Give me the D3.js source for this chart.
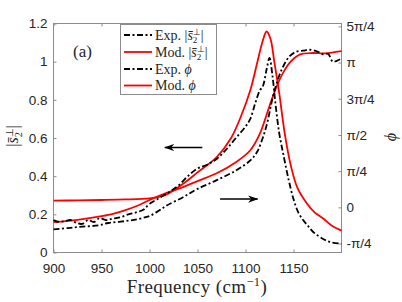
<!DOCTYPE html>
<html lang="en">
<head>
<meta charset="utf-8">
<script src="https://d3js.org/d3.v7.min.js"></script>
<style>
  body { margin: 0; background: #fff; }
  svg text { fill: #262626; }
</style>
</head>
<body>
<svg id="chart" width="402" height="302"></svg>
<script>
// x ticks
const xTicks = [900, 950, 1000, 1050, 1100, 1150];
const yTicksL = [0, 0.2, 0.4, 0.6, 0.8, 1, 1.2];
const yTicksR = [-Math.PI/4, 0, Math.PI/4, Math.PI/2, 3*Math.PI/4, Math.PI, 5*Math.PI/4];
const yTickLabelsR = ["-π/4", "0", "π/4", "π/2", "3π/4", "π", "5π/4"];

// Exp |s2| (black dash-dot, left axis)
const expMagF = [900,906,912,918,924,930,936,942,948,955,962,970,978,986,994,1000,1010,1020,1030,1040,1050,1060,1070,1080,1090,1100,1105,1110,1115,1118,1122,1125,1128,1131,1135,1140,1145,1150,1155,1160,1165,1170,1178,1188,1200];
const expMag  = [0.17,0.16,0.165,0.17,0.155,0.15,0.17,0.16,0.18,0.17,0.178,0.185,0.2,0.21,0.225,0.255,0.285,0.315,0.35,0.40,0.44,0.46,0.49,0.54,0.60,0.66,0.70,0.78,0.85,0.87,0.96,1.02,0.93,0.79,0.63,0.50,0.38,0.28,0.21,0.17,0.14,0.11,0.08,0.055,0.046];

// Mod |s2| (red, left axis)
const modMagF = [900,925,950,975,1000,1010,1020,1035,1050,1070,1085,1095,1105,1112,1118,1122,1126,1130,1135,1141,1147,1154,1164,1172,1181,1190,1200];
const modMag  = [0.272,0.273,0.275,0.278,0.284,0.292,0.31,0.36,0.42,0.50,0.60,0.71,0.85,0.99,1.11,1.158,1.12,1.0,0.84,0.62,0.46,0.34,0.257,0.21,0.178,0.14,0.115];

// Exp phi (black dash-dot, right axis, rad)
const expPhiF = [900,915,930,947,957,970,984,995,1001,1010,1018,1035,1050,1070,1090,1105,1112,1117,1122,1129,1135,1140,1146,1153,1160,1167,1175,1181,1186,1191,1195,1200];
const expPhi  = [-0.48,-0.45,-0.42,-0.39,-0.34,-0.31,-0.27,-0.22,-0.18,-0.07,0.04,0.22,0.40,0.59,0.80,1.02,1.2,1.45,1.78,2.44,2.85,3.09,3.28,3.38,3.40,3.42,3.38,3.32,3.33,3.16,3.18,3.23];

// Mod phi (red, right axis, rad)
const modPhiF = [900,925,950,962,975,988,1000,1010,1020,1035,1050,1070,1090,1105,1115,1125,1133,1140,1147,1157,1170,1181,1190,1200];
const modPhi  = [-0.32,-0.27,-0.19,-0.14,-0.06,0.04,0.16,0.25,0.33,0.44,0.57,0.74,0.98,1.24,1.60,2.2,2.65,2.95,3.16,3.32,3.35,3.34,3.36,3.39];

const svg = d3.select("#chart");
const L = 53, R = 341, T = 23, B = 252;

const x = d3.scaleLinear().domain([900, 1200]).range([L, R]);
const yL = d3.scaleLinear().domain([0, 1.2]).range([B, T]);
const yR = d3.scaleLinear().domain([-0.98, 3.99]).range([B, T]);

const g = svg.append("g").attr("transform", "translate(0.5,0.5)");

// box
g.append("rect").attr("x", L).attr("y", T).attr("width", R - L).attr("height", B - T)
  .attr("fill", "none").attr("stroke", "#8c8c8c").attr("stroke-width", 1);

function styleAxis(sel) {
  sel.select(".domain").remove();
  sel.selectAll(".tick line").attr("stroke", "#8c8c8c");
  sel.selectAll("text").attr("font-family", "'Liberation Sans', Arial, sans-serif")
     .attr("font-size", 13.5).attr("fill", "#262626");
}

g.append("g").attr("transform", `translate(0,${B})`)
  .call(d3.axisBottom(x).tickValues(xTicks).tickSize(-3).tickPadding(11).tickFormat(d3.format("d")))
  .call(styleAxis);
g.append("g").attr("transform", `translate(0,${T})`)
  .call(d3.axisTop(x).tickValues(xTicks).tickSize(-3).tickFormat(""))
  .call(styleAxis);
g.append("g").attr("transform", `translate(${L},0)`)
  .call(d3.axisLeft(yL).tickValues(yTicksL).tickSize(-3).tickPadding(6).tickFormat(d => d3.format("")(d)))
  .call(styleAxis);
g.append("g").attr("transform", `translate(${R},0)`)
  .call(d3.axisRight(yR).tickValues(yTicksR).tickSize(-3).tickPadding(5).tickFormat((d, i) => yTickLabelsR[i]))
  .call(styleAxis);

// curves
const lineL = d3.line().x(d => x(d[0])).y(d => yL(d[1])).curve(d3.curveCatmullRom.alpha(0.5));
const lineR = d3.line().x(d => x(d[0])).y(d => yR(d[1])).curve(d3.curveCatmullRom.alpha(0.5));
const dash = "6,2.5,2,2.5";

g.append("path").datum(d3.zip(modMagF, modMag)).attr("d", lineL)
  .attr("fill", "none").attr("stroke", "#ff0000").attr("stroke-width", 1.8);
g.append("path").datum(d3.zip(modPhiF, modPhi)).attr("d", lineR)
  .attr("fill", "none").attr("stroke", "#ff0000").attr("stroke-width", 1.8);
g.append("path").datum(d3.zip(expMagF, expMag)).attr("d", lineL)
  .attr("fill", "none").attr("stroke", "#000").attr("stroke-width", 1.8).attr("stroke-dasharray", dash);
g.append("path").datum(d3.zip(expPhiF, expPhi)).attr("d", lineR)
  .attr("fill", "none").attr("stroke", "#000").attr("stroke-width", 1.8).attr("stroke-dasharray", dash);

// arrows
const defs = svg.append("defs");
defs.append("marker").attr("id", "head").attr("viewBox", "0 0 10 10").attr("refX", 9).attr("refY", 5)
  .attr("markerWidth", 7).attr("markerHeight", 7).attr("orient", "auto-start-reverse")
  .append("path").attr("d", "M0,1.5 L10,5 L0,8.5 L3,5 Z").attr("fill", "#000");
g.append("line").attr("x1", x(1055)).attr("x2", x(1016)).attr("y1", yL(0.55)).attr("y2", yL(0.55))
  .attr("stroke", "#000").attr("stroke-width", 1.5).attr("marker-end", "url(#head)");
g.append("line").attr("x1", x(1073.5)).attr("x2", x(1112.5)).attr("y1", yL(0.28)).attr("y2", yL(0.28))
  .attr("stroke", "#000").attr("stroke-width", 1.5).attr("marker-end", "url(#head)");

// (a)
svg.append("text").attr("x", 73).attr("y", 57).attr("font-family", "'Liberation Serif', serif")
  .attr("font-size", 17).text("(a)");

// |s2| label helper
function magLabel(t, size) {
  t.append("tspan").text("|");
  t.append("tspan").attr("font-style", "italic").text("s\u0304");
  t.append("tspan").attr("font-size", size * 0.65).attr("dy", size * 0.28).text("2");
  t.append("tspan").attr("font-size", size * 0.65).attr("dx", -size * 0.33).attr("dy", -size * 0.62).text("⊥");
  t.append("tspan").attr("dy", size * 0.34).text("|");
}

// legend
const lg = svg.append("g");
lg.append("rect").attr("x", 120.5).attr("y", 24.5).attr("width", 96).attr("height", 70)
  .attr("fill", "#fff").attr("stroke", "#8c8c8c");
const items = [
  {label: "Exp. ", mag: true, color: "#000", dash: dash},
  {label: "Mod. ", mag: true, color: "#ff0000", dash: null},
  {label: "Exp. ", mag: false, color: "#000", dash: dash},
  {label: "Mod. ", mag: false, color: "#ff0000", dash: null}
];
const itemY = [35, 52, 69, 85.5];
items.forEach((it, i) => {
  lg.append("line").attr("x1", 124).attr("x2", 152).attr("y1", itemY[i]).attr("y2", itemY[i])
    .attr("stroke", it.color).attr("stroke-width", 1.8).attr("stroke-dasharray", it.dash);
  const t = lg.append("text").attr("x", 155).attr("y", itemY[i] + 4.5)
    .attr("font-family", "'Liberation Serif', serif").attr("font-size", 14);
  t.append("tspan").text(it.label);
  if (it.mag) magLabel(t, 14);
  else t.append("tspan").attr("font-style", "italic").text("ϕ");
});

// axis titles
svg.append("text").attr("x", 197).attr("y", 293).attr("text-anchor", "middle")
  .attr("font-family", "'Liberation Serif', serif").attr("font-size", 19).attr("letter-spacing", 0.4)
  .call(t => {
    t.append("tspan").text("Frequency (cm");
    t.append("tspan").attr("font-size", 12.5).attr("dy", -7).text("−1");
    t.append("tspan").attr("dy", 7).text(")");
  });

const yl = svg.append("text").attr("transform", "translate(18,136) rotate(-90)").attr("text-anchor", "middle")
  .attr("font-family", "'Liberation Serif', serif").attr("font-size", 16);
magLabel(yl, 16);

svg.append("text").attr("transform", "translate(390,137) rotate(-90)").attr("text-anchor", "middle")
  .attr("dy", "0.35em").attr("font-family", "'Liberation Serif', serif").attr("font-style", "italic")
  .attr("font-size", 16).text("ϕ");
</script>
</body>
</html>
